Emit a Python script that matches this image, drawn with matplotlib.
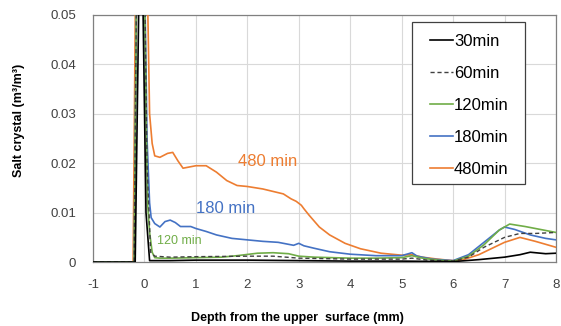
import matplotlib
matplotlib.use('Agg')
import matplotlib.pyplot as plt
from matplotlib.patches import Rectangle

plt.rcParams['font.family'] = ['Liberation Sans', 'DejaVu Sans']
plt.rcParams['axes.unicode_minus'] = False

# --- data (depth in mm, salt crystal in m3/m3) ---
depth_30 = [-1, -0.18, -0.1, -0.04, 0.03, 0.1, 0.5, 1, 2, 3, 4, 5, 6, 6.5, 7, 7.3, 7.5, 7.8, 8]
salt_30 = [0, 0, 0.06, 0.06, 0.01, 0.0003, 0.0003, 0.0004, 0.0004, 0.0003, 0.0002, 0.0002,
           0.0001, 0.0005, 0.001, 0.0015, 0.002, 0.0017, 0.0018]

depth_60 = [-1, -0.2, -0.15, 0.0, 0.05, 0.12, 0.2, 0.5, 1, 2, 2.5, 3, 4, 5, 5.2, 5.5, 6,
            6.3, 6.6, 7, 7.3, 7.6, 8]
salt_60 = [0, 0, 0.06, 0.06, 0.02, 0.002, 0.0012, 0.001, 0.0011, 0.0012, 0.0012, 0.0008,
           0.0006, 0.0006, 0.0008, 0.0004, 0.0002, 0.001, 0.003, 0.005, 0.0058, 0.0058, 0.006]

depth_120 = [-1, -0.2, -0.15, 0.0, 0.03, 0.06, 0.1, 0.15, 0.2, 0.3, 0.5, 1, 1.5, 1.8, 2.2,
             2.5, 2.8, 3.0, 3.3, 4, 4.5, 5, 5.2, 5.4, 5.7, 6, 6.3, 6.6, 6.9, 7.1, 7.4, 7.7, 8]
salt_120 = [0, 0, 0.06, 0.06, 0.03, 0.012, 0.006, 0.002, 0.0009, 0.0008, 0.0008, 0.0009,
            0.001, 0.0013, 0.0018, 0.0019, 0.0017, 0.0012, 0.001, 0.0008, 0.0008, 0.0009,
            0.0013, 0.0008, 0.0004, 0.0002, 0.0012, 0.0035, 0.0065, 0.0077, 0.0072, 0.0066, 0.006]

depth_180 = [-1, -0.2, -0.15, 0.0, 0.05, 0.1, 0.13, 0.2, 0.3, 0.4, 0.5, 0.6, 0.7, 0.9, 1.0,
             1.2, 1.4, 1.7, 2.0, 2.3, 2.6, 2.9, 3.0, 3.1, 3.3, 3.6, 4.0, 4.5, 5.0, 5.2, 5.3,
             5.6, 6.0, 6.3, 6.6, 6.9, 7.0, 7.2, 7.5, 7.8, 8]
salt_180 = [0, 0, 0.06, 0.06, 0.025, 0.012, 0.009, 0.0078, 0.0071, 0.0082, 0.0085, 0.008,
            0.0072, 0.0072, 0.0068, 0.0062, 0.0055, 0.0048, 0.0045, 0.0042, 0.004, 0.0034,
            0.0038, 0.0033, 0.0028, 0.0021, 0.0016, 0.0013, 0.0013, 0.0019, 0.0012, 0.0006,
            0.0003, 0.0015, 0.004, 0.0065, 0.0071, 0.0066, 0.0055, 0.0048, 0.0045]

depth_480 = [-0.4, -0.22, -0.17, 0.05, 0.1, 0.15, 0.2, 0.3, 0.45, 0.55, 0.65, 0.75, 1.0, 1.2,
             1.4, 1.6, 1.8, 2.0, 2.3, 2.5, 2.7, 2.85, 2.95, 3.05, 3.1, 3.2, 3.4, 3.6, 3.9,
             4.2, 4.6, 5.0, 5.2, 5.4, 5.7, 6.0, 6.2, 6.5, 6.8, 7.0, 7.3, 7.6, 8]
salt_480 = [0, 0, 0.06, 0.06, 0.03, 0.024, 0.0215, 0.0212, 0.022, 0.0222, 0.0205, 0.019,
            0.0195, 0.0195, 0.0182, 0.0165, 0.0155, 0.0153, 0.0148, 0.0143, 0.0138, 0.0128,
            0.0123, 0.0115, 0.0108, 0.0095, 0.0071, 0.0055, 0.0038, 0.0027, 0.0018, 0.0014,
            0.0015, 0.001, 0.0006, 0.0003, 0.0005, 0.0015, 0.003, 0.004, 0.005, 0.0042, 0.003]

x_ticks = [-1, 0, 1, 2, 3, 4, 5, 6, 7, 8]
y_ticks = [0, 0.01, 0.02, 0.03, 0.04, 0.05]
y_tick_labels = ['0', '0.01', '0.02', '0.03', '0.04', '0.05']

fig = plt.figure(figsize=(5.61, 3.26), dpi=100)
ax = fig.add_axes([0.1658, 0.196, 0.8252, 0.758])

ax.plot(depth_480, salt_480, color='#ED7D31', lw=1.2, label='480min', zorder=3)
ax.plot(depth_180, salt_180, color='#4472C4', lw=1.2, label='180min', zorder=4)
ax.plot(depth_120, salt_120, color='#70AD47', lw=1.2, label='120min', zorder=5)
ax.plot(depth_60, salt_60, color='#404040', lw=1.0, ls=(0, (3, 2)), label='60min', zorder=6)
ax.plot(depth_30, salt_30, color='black', lw=1.2, label='30min', zorder=7)

ax.set_xlim(-1, 8)
ax.set_ylim(0, 0.05)
ax.set_xticks(x_ticks)
ax.set_yticks(y_ticks)
ax.set_yticklabels(y_tick_labels)
ax.tick_params(length=0, labelsize=9.5, colors='#404040')
ax.tick_params(axis='x', pad=12)
ax.tick_params(axis='y', pad=12)
ax.grid(True, color='#d9d9d9', lw=0.8)
ax.set_axisbelow(True)
for s in ax.spines.values():
    s.set_color('#808080')
    s.set_linewidth(0.9)

fig.text(297 / 561, 1 - 318 / 326, 'Depth from the upper  surface (mm)', fontsize=9,
         fontweight='bold', ha='center', va='center')
fig.text(19 / 561, 1 - 120 / 326, 'Salt crystal (m³/m³)', fontsize=9, fontweight='bold',
         rotation=90, ha='center', va='center')

ax.text(1.82, 0.0195, '480 min', color='#ED7D31', fontsize=12)
ax.text(1.0, 0.0099, '180 min', color='#4472C4', fontsize=12)
ax.text(0.245, 0.0036, '120 min', color='#70AD47', fontsize=9)

# legend box drawn separately so the padding matches the reference
ax.add_patch(Rectangle((0.689, 0.316), 0.244, 0.656, transform=ax.transAxes,
                       facecolor='white', edgecolor='#404040', lw=0.9, zorder=9))
handles, labels = ax.get_legend_handles_labels()
order = [4, 3, 2, 1, 0]
leg = ax.legend([handles[i] for i in order], [labels[i] for i in order],
                loc='upper left', bbox_to_anchor=(0.728, 0.925), borderaxespad=0,
                borderpad=0, frameon=False, fontsize=12,
                handlelength=1.35, handletextpad=0.08, labelspacing=1.02)
leg.set_zorder(10)

fig.savefig('out.png', dpi=100)
